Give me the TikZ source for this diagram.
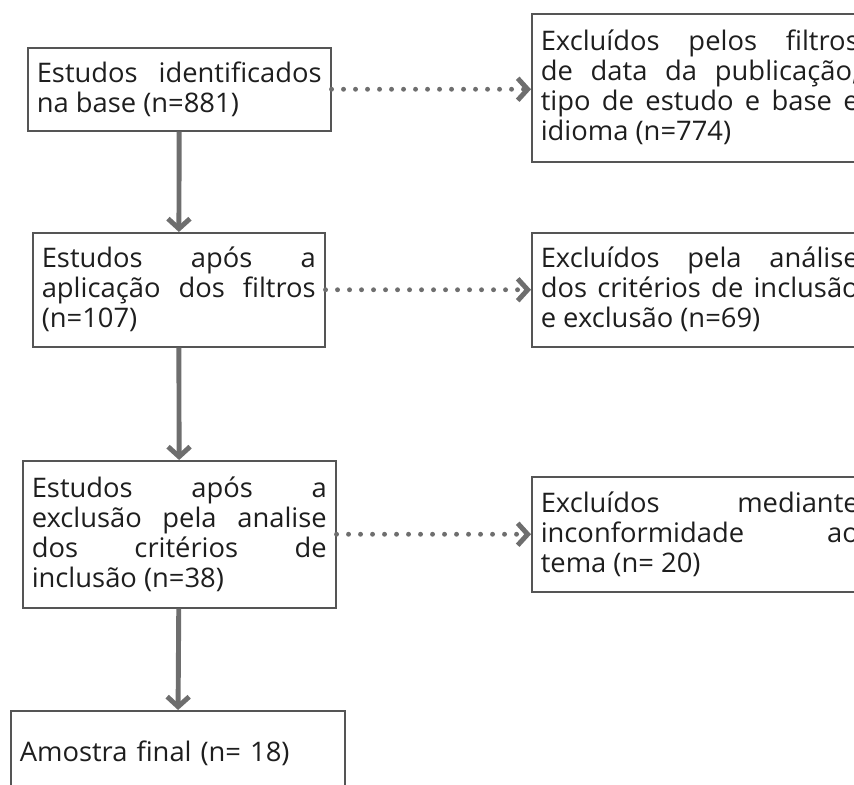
\documentclass[tikz,border=0pt]{standalone}
\usepackage{fontspec}
\setmainfont{Open Sans}[FakeStretch=1.015]
\usepackage{tikz}
\usetikzlibrary{arrows.meta}
\hyphenpenalty=10000
\exhyphenpenalty=10000
\definecolor{seta}{HTML}{6E6E6E}
\definecolor{borda}{HTML}{555555}
\definecolor{texto}{HTML}{1E1E1E}
\tikzset{
    caixa/.style = {draw = borda, line width = 1.3pt, anchor = north west, align = justify,
        inner xsep = 0.27cm, inner ysep = 0pt, text = texto,
        font = \fontsize{23}{25.6}\selectfont},
    passo/.style = {draw = seta, line width = 4.2pt, -{Straight Barb[length = 0.3cm, width = 0.66cm]}},
    exclui/.style = {draw = seta, line width = 4.2pt, line cap = round, dash pattern = on 0pt off 0.36cm,
        -{Straight Barb[length = 0.3cm, width = 0.66cm]}}
}

\begin{document}
\begin{tikzpicture}[x = 0.03cm, y = -0.03cm]
    % margens
    \clip (0,0) rectangle (854,785);
    \useasboundingbox (0,0) rectangle (854,785);
    % caixas da esquerda
    \node[caixa, text width = 8.55cm, minimum height = 2.49cm] (ident) at (27,47)
        {Estudos identificados na base (n=881)};
    \node[caixa, text width = 8.22cm, minimum height = 3.42cm] (filtros) at (32,232)
        {Estudos após a aplicação dos filtros (n=107)};
    \node[caixa, text width = 8.85cm, minimum height = 4.41cm] (inclusao) at (22,460)
        {Estudos após a exclusão pela analise dos critérios de inclusão (n=38)};
    \node[caixa, text width = 9.48cm, minimum height = 2.58cm, align = left] (final) at (10,710)
        {Amostra final (n= 18)};
    % caixas da direita
    \node[caixa, text width = 9.54cm, minimum height = 4.44cm] (excl1) at (531,13)
        {Excluídos pelos filtros de data da publicação, tipo de estudo e base e idioma (n=774)};
    \node[caixa, text width = 9.54cm, minimum height = 3.42cm] (excl2) at (531,232)
        {Excluídos pela análise dos critérios de inclusão e exclusão (n=69)};
    \node[caixa, text width = 9.54cm, minimum height = 3.45cm] (excl3) at (531,476)
        {Excluídos mediante inconformidade ao\linebreak tema (n= 20)};
    % setas
    \draw[passo] (ident) -- (filtros);
    \draw[passo] (filtros) -- (inclusao);
    \draw[passo] (inclusao) -- (final);
    \draw[exclui] (ident.east) -- (excl1.west |- ident.east);
    \draw[exclui] (filtros.east) -- (excl2.west |- filtros.east);
    \draw[exclui] (inclusao.east) -- (excl3.west |- inclusao.east);
\end{tikzpicture}
\end{document}
